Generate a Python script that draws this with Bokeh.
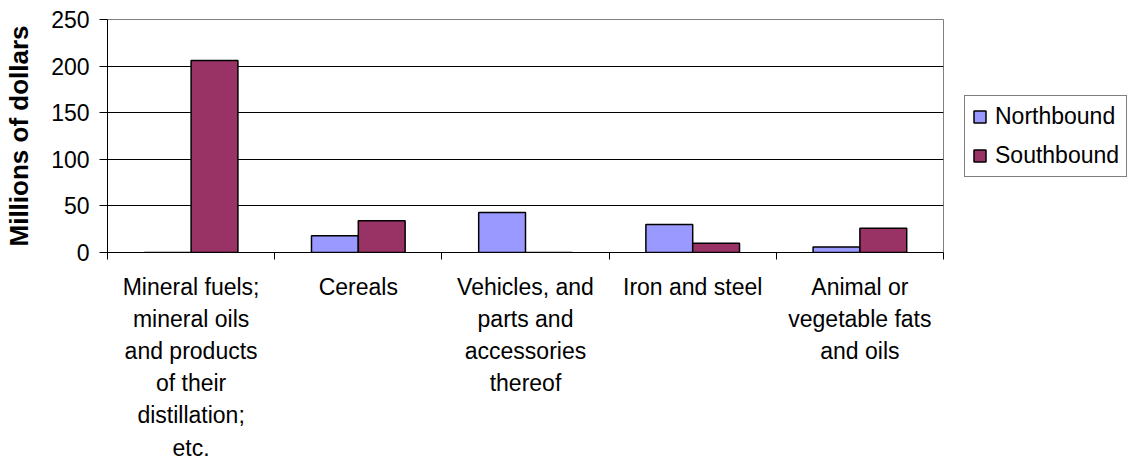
from bokeh.plotting import figure
from bokeh.layouts import row
from bokeh.models import ColumnDataSource, FixedTicker, Range1d, Legend, LegendItem
from bokeh.embed import file_html
from bokeh.resources import INLINE

categories = [
    "Mineral fuels;\nmineral oils\nand products\nof their\ndistillation;\netc.",
    "Cereals",
    "Vehicles, and\nparts and\naccessories\nthereof",
    "Iron and steel",
    "Animal or\nvegetable fats\nand oils",
]
northbound = [0, 18, 43, 30, 6]
southbound = [206, 34, 0, 10, 26]
y_ticks = [0, 50, 100, 150, 200, 250]
series_names = ["Northbound", "Southbound"]
colors = ["#9999FF", "#993366"]

FONT = "Liberation Sans"
FS = "23px"

n = len(categories)
centers = [i + 0.5 for i in range(n)]
bw = 0.28
src = ColumnDataSource(dict(
    xn=[c - bw / 2 for c in centers],
    xs=[c + bw / 2 for c in centers],
    north=northbound,
    south=southbound,
))

p = figure(width=964, height=464, output_backend="svg", toolbar_location=None,
           x_range=Range1d(0, n), y_range=Range1d(0, 250))
p.min_border_left = 107
p.min_border_right = 21
p.min_border_top = 19
p.min_border_bottom = 212
p.background_fill_color = "white"
p.border_fill_color = "white"
p.outline_line_color = "#808080"
p.outline_line_width = 1

bar_style = dict(line_color="black", line_width=1.5)
r1 = p.vbar(x="xn", top="north", width=bw, source=src, fill_color=colors[0], **bar_style)
r2 = p.vbar(x="xs", top="south", width=bw, source=src, fill_color=colors[1], **bar_style)

# x axis: labels at category centers, ticks at boundaries
p.xaxis.ticker = FixedTicker(ticks=centers, minor_ticks=list(range(n + 1)))
p.xaxis.major_label_overrides = {c: lab for c, lab in zip(centers, categories)}
p.xaxis.major_tick_out = 0
p.xaxis.major_tick_in = 0
p.xaxis.minor_tick_out = 7
p.xaxis.minor_tick_in = 0
p.xaxis.minor_tick_line_color = "black"
p.xaxis.axis_line_color = "black"
p.xaxis.major_label_text_font = FONT
p.xaxis.major_label_text_font_size = FS
p.xaxis.major_label_text_color = "black"
p.xaxis.major_label_text_line_height = 1.24
p.xaxis.major_label_standoff = 14
p.xgrid.visible = False

# y axis
p.yaxis.ticker = FixedTicker(ticks=y_ticks)
p.yaxis.minor_tick_line_color = None
p.yaxis.major_tick_out = 8
p.yaxis.major_tick_in = 0
p.yaxis.major_tick_line_color = "black"
p.yaxis.axis_line_color = "black"
p.yaxis.major_label_text_font = FONT
p.yaxis.major_label_text_font_size = FS
p.yaxis.major_label_text_color = "black"
p.yaxis.major_label_standoff = 10
p.yaxis.axis_label = "Millions of dollars"
p.yaxis.axis_label_text_font = FONT
p.yaxis.axis_label_text_font_size = "26px"
p.yaxis.axis_label_text_font_style = "bold"
p.yaxis.axis_label_text_color = "black"
p.yaxis.axis_label_standoff = 14
p.ygrid.ticker = FixedTicker(ticks=y_ticks[1:-1])
p.ygrid.grid_line_color = "black"
p.ygrid.grid_line_width = 1

# legend panel: hidden copies of the series supply the legend swatches
q = figure(width=167, height=464, output_backend="svg", toolbar_location=None,
           x_axis_location=None, y_axis_location=None,
           x_range=Range1d(0, n), y_range=Range1d(1000, 1001))
q.min_border_left = 0
q.min_border_right = 0
q.min_border_top = 19
q.min_border_bottom = 212
q.outline_line_color = None
q.background_fill_color = "white"
q.border_fill_color = "white"
q.xgrid.visible = False
q.ygrid.visible = False
d1 = q.vbar(x="xn", top="north", width=bw, source=src, fill_color=colors[0], **bar_style)
d2 = q.vbar(x="xs", top="south", width=bw, source=src, fill_color=colors[1], **bar_style)
d1.visible = False
d2.visible = False

legend = Legend(items=[LegendItem(label=series_names[0], renderers=[d1]),
                       LegendItem(label=series_names[1], renderers=[d2])],
                location=(0, 75), orientation="vertical")
legend.label_text_font = FONT
legend.label_text_font_size = FS
legend.label_text_color = "black"
legend.glyph_width = 15
legend.glyph_height = 15
legend.label_standoff = 8
legend.label_height = 24
legend.spacing = 12
legend.padding = 7
legend.margin = 0
legend.border_line_color = "black"
legend.border_line_width = 1
legend.background_fill_color = "white"
legend.background_fill_alpha = 1
legend.inactive_fill_alpha = 0
q.add_layout(legend, "center")

layout = row(p, q, spacing=0)
open("out.html", "w").write(file_html(layout, INLINE))
